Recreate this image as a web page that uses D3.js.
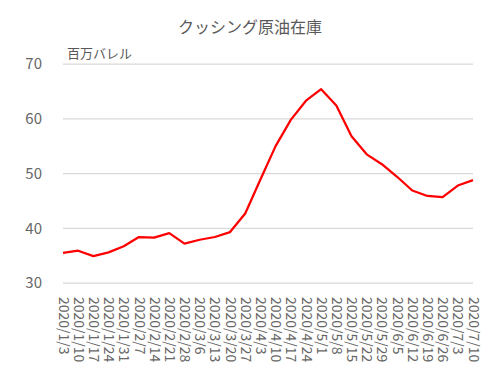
<!DOCTYPE html>
<html><head><meta charset="utf-8">
<script src="https://cdn.jsdelivr.net/npm/d3@7"></script>
<style>body{margin:0;background:#fff}svg{display:block}</style>
</head><body>
<script>
const title = "クッシング原油在庫";
const unitLabel = "百万バレル";
const dates = ["2020/1/3","2020/1/10","2020/1/17","2020/1/24","2020/1/31","2020/2/7","2020/2/14","2020/2/21","2020/2/28","2020/3/6","2020/3/13","2020/3/20","2020/3/27","2020/4/3","2020/4/10","2020/4/17","2020/4/24","2020/5/1","2020/5/8","2020/5/15","2020/5/22","2020/5/29","2020/6/5","2020/6/12","2020/6/19","2020/6/26","2020/7/3","2020/7/10"];
const stocks = [35.5,35.9,34.9,35.6,36.7,38.4,38.3,39.1,37.2,37.9,38.4,39.3,42.7,48.9,55.0,59.8,63.3,65.4,62.4,56.8,53.5,51.7,49.4,46.9,45.9,45.7,47.8,48.8];
const yTicks = [30,40,50,60,70];

const W = 500, H = 392;
const m = {left: 63, right: 27, top: 64, bottom: 109};
const svg = d3.select("body").append("svg").attr("width", W).attr("height", H);
const font = "'Noto Sans CJK JP', 'Open Sans', sans-serif";

const x = d3.scalePoint().domain(dates).range([m.left, W - m.right]);
const y = d3.scaleLinear().domain([30, 70]).range([H - m.bottom, m.top]);

// gridlines
svg.append("g").selectAll("line").data(yTicks).join("line")
  .attr("x1", m.left).attr("x2", W - m.right)
  .attr("y1", d => y(d)).attr("y2", d => y(d))
  .attr("stroke", "#d9d9d9").attr("stroke-width", 1.25);

// y axis labels
const yAxis = d3.axisLeft(y).tickValues(yTicks).tickSize(0).tickPadding(21);
const gy = svg.append("g").attr("transform", `translate(${m.left},0)`).call(yAxis);
gy.select(".domain").remove();
gy.selectAll("text").attr("font-family", font).attr("font-size", 15).attr("fill", "#666666");

// x axis labels
const xAxis = d3.axisBottom(x).tickSize(0).tickPadding(0);
const gx = svg.append("g").attr("transform", `translate(0,${H - m.bottom})`).call(xAxis);
gx.select(".domain").remove();
gx.selectAll("text")
  .attr("font-family", font).attr("font-size", 14).attr("fill", "#666666")
  .attr("transform", "rotate(90)")
  .attr("x", 14).attr("y", 0).attr("dy", "0.35em")
  .attr("text-anchor", "start");

// line
const line = d3.line().x((d, i) => x(dates[i])).y(d => y(d));
svg.append("path").datum(stocks)
  .attr("d", line).attr("fill", "none")
  .attr("stroke", "#ff0000").attr("stroke-width", 2.25)
  .attr("stroke-linejoin", "round");

// title
svg.append("text").attr("x", 250).attr("y", 33).attr("text-anchor", "middle")
  .attr("font-family", font).attr("font-size", 16).attr("fill", "#595959").text(title);
svg.append("text").attr("x", 67).attr("y", 58)
  .attr("font-family", font).attr("font-size", 13).attr("fill", "#595959").text(unitLabel);
</script>
</body></html>
